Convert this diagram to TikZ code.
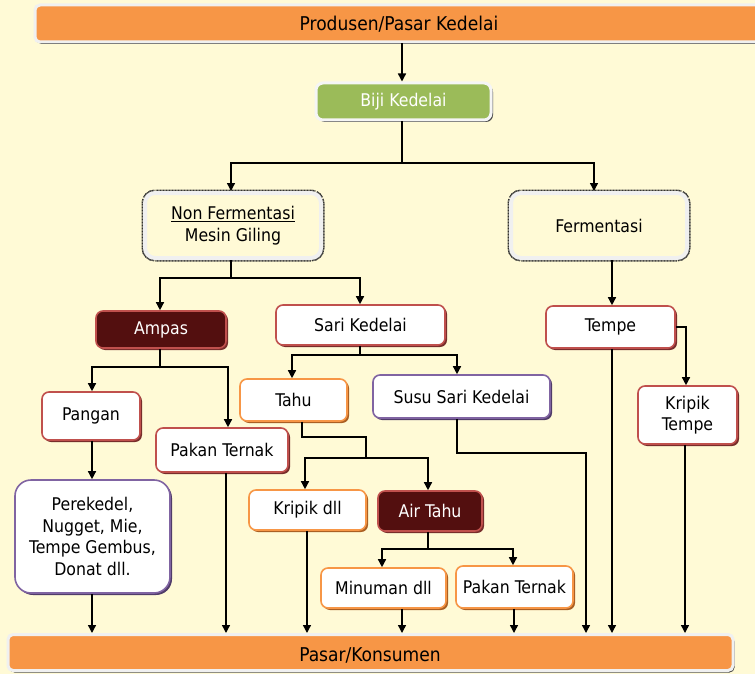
\documentclass[tikz,border=0pt]{standalone}
\usepackage{fontspec}
\setmainfont{DejaVu Sans Condensed}
\usetikzlibrary{arrows.meta,shadows}

\definecolor{bgyellow}{RGB}{255,250,214}
\definecolor{barorange}{RGB}{247,150,70}
\definecolor{leafgreen}{RGB}{155,187,89}
\definecolor{maroon}{RGB}{83,15,15}
\definecolor{redline}{RGB}{192,80,77}
\definecolor{redshade}{RGB}{120,45,43}
\definecolor{orangeline}{RGB}{247,150,70}
\definecolor{orangeshade}{RGB}{170,95,35}
\definecolor{purpleline}{RGB}{128,100,162}
\definecolor{purpleshade}{RGB}{80,60,105}

\tikzset{
  base/.style={rounded corners=7, align=center, inner sep=2,
    font=\fontsize{17.5}{21.5}\selectfont},
  bar/.style={base, rounded corners=5, fill=barorange, draw=white!94!black,
    line width=3, drop shadow={shadow xshift=1.5pt, shadow yshift=-2pt, fill=black!75, opacity=1}},
  barlabel/.style={font=\fontsize{19}{23}\selectfont},
  greenbox/.style={base, fill=leafgreen, draw=white!96!black, line width=3,
    text=white, drop shadow={shadow xshift=2pt, shadow yshift=-2pt, fill=black!70, opacity=1}},
  framebox/.style={base, rounded corners=10, fill=bgyellow, draw=white!94!black, line width=4,
    preaction={draw=black!80, line width=7, dash pattern=on 1pt off 0.5pt},
    drop shadow={shadow xshift=2pt, shadow yshift=-2pt, fill=black!70, opacity=1}},
  redbox/.style={base, fill=white, draw=redline, line width=1.6,
    drop shadow={shadow xshift=2pt, shadow yshift=-2pt, fill=redshade, opacity=1}},
  orangebox/.style={base, fill=white, draw=orangeline, line width=1.6,
    drop shadow={shadow xshift=2pt, shadow yshift=-2pt, fill=orangeshade, opacity=1}},
  purplebox/.style={base, fill=white, draw=purpleline, line width=1.6,
    drop shadow={shadow xshift=2pt, shadow yshift=-2pt, fill=purpleshade, opacity=1}},
  darkbox/.style={base, fill=maroon, draw=redline, line width=1.6, text=white,
    drop shadow={shadow xshift=2pt, shadow yshift=-2pt, fill=redshade, opacity=1}},
  arr/.style={line width=1.4, -{Triangle[length=8pt,width=8pt]}},
  ln/.style={line width=1.4},
}

\begin{document}
\begin{tikzpicture}[x=1pt,y=-1pt]
  \fill[bgyellow] (0,0) rectangle (755,674);
  \useasboundingbox (0,0) rectangle (755,674);

  % bars
  \node[bar, minimum width=728, minimum height=37] (top) at (399,23.5) {};
  \node[barlabel] (toplabel) at (399,24) {Produsen/Pasar Kedelai};
  \node[bar, minimum width=725, minimum height=36] (bottom) at (370.5,652.5) {};
  \node[barlabel] (botlabel) at (370,655) {Pasar/Konsumen};

  % boxes
  \node[greenbox, minimum width=175, minimum height=37] (biji) at (403.5,101.5) {Biji Kedelai};
  \node[framebox, minimum width=176, minimum height=65] (nonf) at (233,225.5)
    {\underline{Non Fermentasi}\\Mesin Giling};
  \node[framebox, minimum width=176, minimum height=65] (ferm) at (599,225.5) {Fermentasi};

  \node[darkbox, minimum width=130, minimum height=37] (ampas) at (161,329.5) {Ampas};
  \node[redbox, minimum width=169, minimum height=40] (sari) at (360.5,325) {Sari Kedelai};
  \node[redbox, minimum width=129, minimum height=42] (tempe) at (610.5,327) {Tempe};

  \node[redbox, minimum width=98, minimum height=48] (pangan) at (91,416) {Pangan};
  \node[redbox, minimum width=132, minimum height=44] (pakanL) at (222,450) {Pakan Ternak};
  \node[orangebox, minimum width=107, minimum height=42] (tahu) at (293.5,400) {Tahu};
  \node[purplebox, minimum width=177, minimum height=43] (susu) at (461.5,396.5) {Susu Sari Kedelai};
  \node[redbox, minimum width=99, minimum height=58] (kriptempe) at (687.5,415) {Kripik\\Tempe};

  \node[purplebox, rounded corners=16, minimum width=155, minimum height=113] (perek) at (92.5,536.5)
    {Perekedel,\\Nugget, Mie,\\Tempe Gembus,\\Donat dll.};
  \node[orangebox, minimum width=117, minimum height=40] (kripik) at (307.5,510) {Kripik dll};
  \node[darkbox, minimum width=104, minimum height=40] (air) at (430,511) {Air Tahu};
  \node[orangebox, minimum width=125, minimum height=40] (minum) at (383.5,588) {Minuman dll};
  \node[orangebox, minimum width=117, minimum height=42] (pakanR) at (514.5,587) {Pakan Ternak};

  % connectors
  \draw[arr] (top.south -| 402,0) -- (biji.north -| 402,0);
  \draw[ln] (biji.south -| 402,0) -- (402,163);
  \draw[arr] (402,163) -| (nonf.north -| 231,0);
  \draw[arr] (402,163) -| (ferm.north -| 594,0);

  \draw[ln] (nonf.south -| 231,0) -- (231,278);
  \draw[arr] (231,278) -| (ampas.north -| 160,0);
  \draw[arr] (231,278) -| (sari.north -| 360,0);
  \draw[arr] (ferm.south -| 612,0) -- (tempe.north -| 612,0);

  \draw[ln] (ampas.south -| 160,0) -- (160,367);
  \draw[arr] (160,367) -| (pangan.north -| 92,0);
  \draw[arr] (160,367) -| (pakanL.north -| 228,0);

  \draw[ln] (sari.south -| 360,0) -- (360,355);
  \draw[arr] (360,355) -| (tahu.north -| 292,0);
  \draw[arr] (360,355) -| (susu.north -| 457,0);

  \draw[arr] (tempe.east) -- (686,327 |- tempe.east) -- (kriptempe.north -| 686,0);

  \draw[arr] (pangan.south -| 92,0) -- (perek.north -| 92,0);

  \draw[ln] (tahu.south -| 302,0) -- (302,437) -- (366,437) -- (366,458);
  \draw[arr] (366,458) -| (kripik.north -| 305,0);
  \draw[arr] (366,458) -| (air.north -| 428,0);

  \draw[ln] (air.south -| 428,0) -- (428,549);
  \draw[arr] (428,549) -| (minum.north -| 382,0);
  \draw[arr] (428,549) -| (pakanR.north -| 513,0);

  % into the consumer bar
  \draw[arr] (perek.south -| 92,0) -- (bottom.north -| 92,0);
  \draw[arr] (pakanL.south -| 226,0) -- (bottom.north -| 226,0);
  \draw[arr] (kripik.south -| 307,0) -- (bottom.north -| 307,0);
  \draw[arr] (minum.south -| 402,0) -- (bottom.north -| 402,0);
  \draw[arr] (pakanR.south -| 514,0) -- (bottom.north -| 514,0);
  \draw[arr] (susu.south -| 457,0) -- (457,453) -- (586,453) -- (bottom.north -| 586,0);
  \draw[arr] (tempe.south -| 612,0) -- (bottom.north -| 612,0);
  \draw[arr] (kriptempe.south -| 685,0) -- (bottom.north -| 685,0);
\end{tikzpicture}
\end{document}
